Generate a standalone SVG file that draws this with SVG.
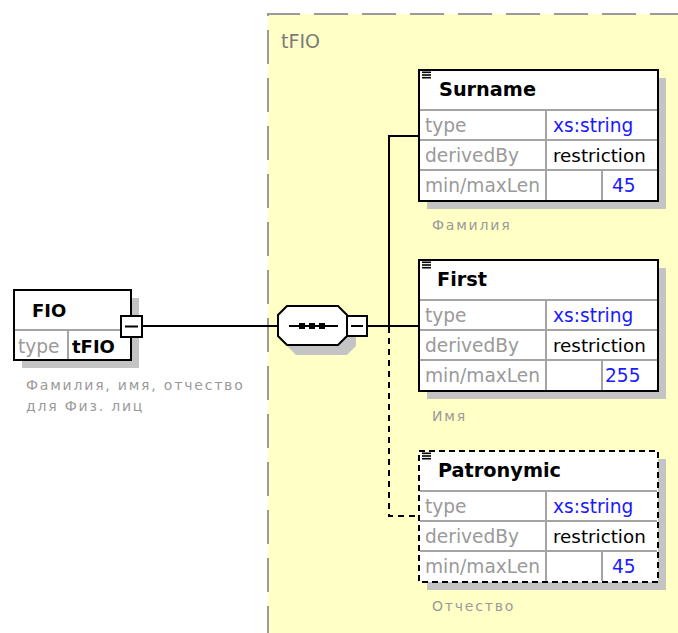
<svg xmlns="http://www.w3.org/2000/svg" width="678" height="633" viewBox="0 0 678 633">
<defs>
<style>
.bg{fill:#ffffff}
.region{fill:#ffffc6}
.regionEdge{fill:none;stroke:#9a9a9a;stroke-width:2;stroke-dasharray:34 14}
.shadow{fill:#c4c4c4}
.box{fill:#ffffff;stroke:#000000;stroke-width:2}
.dbox{fill:#ffffff;stroke:#000000;stroke-width:2;stroke-dasharray:6 4}
.cell{stroke:#a4a4a4;stroke-width:2;fill:none}
.wire{stroke:#000000;stroke-width:2;fill:none}
.dwire{stroke:#000000;stroke-width:2;fill:none;stroke-dasharray:6 5}
.hdr{font-family:"DejaVu Sans",Verdana,sans-serif;font-size:18px;font-weight:bold;fill:#000000}
.ehdr{font-family:"DejaVu Sans",Verdana,sans-serif;font-size:19.3px;font-weight:bold;fill:#000000}
.lbl{font-family:"DejaVu Sans",Verdana,sans-serif;font-size:18.6px;fill:#9a9a9a}
.val{font-family:"DejaVu Sans",Verdana,sans-serif;font-size:18.3px;fill:#000000}
.blue{font-family:"DejaVu Sans",Verdana,sans-serif;font-size:18.6px;fill:#1a1aff}
.desc{font-family:"DejaVu Sans",Verdana,sans-serif;font-size:14px;letter-spacing:1.8px;fill:#9a9a9a}
.title{font-family:"DejaVu Sans",Verdana,sans-serif;font-size:19px;fill:#7a7a7a}
.icon{fill:#000000}
</style>
</defs>
<rect class="bg" x="0" y="0" width="678" height="633"/>

<g id="tFIO">
<rect class="region" x="268" y="14" width="412" height="622"/>
<path class="regionEdge" d="M268,640 V14 H680"/>
<text class="title" x="281" y="48">tFIO</text>
</g>

<g id="connectors">
<line class="wire" x1="142" y1="326" x2="278" y2="326"/>
<line class="wire" x1="367" y1="326" x2="419" y2="326"/>
<path class="wire" d="M419,136 H389 V326"/>
<path class="dwire" d="M389,327 V516 H419"/>
</g>

<g id="FIO">
<rect class="shadow" x="22" y="298" width="117" height="70"/>
<rect class="box" x="14" y="290" width="117" height="70"/>
<line class="cell" x1="15" y1="330" x2="130" y2="330"/>
<line class="cell" x1="68" y1="330" x2="68" y2="359"/>
<rect class="box" x="14" y="290" width="117" height="70" style="fill:none"/>
<text class="hdr" x="32" y="317">FIO</text>
<text class="lbl" x="18" y="353">type</text>
<text class="hdr" x="72" y="353">tFIO</text>
<rect x="121" y="316" width="21" height="21" fill="#ffffff" stroke="#000000" stroke-width="2"/>
<line x1="125" y1="326.5" x2="138" y2="326.5" stroke="#000000" stroke-width="2"/>
<text class="desc" x="26" y="390">Фамилия, имя, отчество</text>
<text class="desc" x="26" y="411">для Физ. лиц</text>
</g>

<g id="sequence">
<path class="shadow" d="M296,315 H347 L356,324 V346 L347,355 H296 L287,346 V324 Z"/>
<path d="M287,306 H338 L347,315 V336 L338,345 H287 L278,336 V315 Z" fill="#ffffff" stroke="#000000" stroke-width="2"/>
<line x1="289" y1="326" x2="338" y2="326" stroke="#000000" stroke-width="2"/>
<rect x="299" y="323" width="6" height="6" fill="#000000"/>
<rect x="309" y="323" width="6" height="6" fill="#000000"/>
<rect x="319" y="323" width="6" height="6" fill="#000000"/>
<rect x="347" y="316" width="20" height="20" fill="#ffffff" stroke="#000000" stroke-width="2"/>
<line x1="351" y1="326" x2="363" y2="326" stroke="#000000" stroke-width="2"/>
</g>

<g id="Surname">
<rect class="shadow" x="427" y="78" width="239" height="131"/>
<rect class="box" x="419" y="70" width="239" height="131"/>
<path class="cell" d="M420,110 H657 M420,140 H657 M420,170 H657 M546,110 V200 M602,170 V200"/>
<rect class="box" x="419" y="70" width="239" height="131" style="fill:none"/>
<rect class="icon" x="422" y="71.5" width="9" height="1.6"/>
<rect class="icon" x="422" y="74.2" width="9" height="1.6"/>
<rect class="icon" x="422" y="76.9" width="9" height="1.6"/>
<text class="ehdr" x="439" y="96">Surname</text>
<text class="lbl" x="425" y="132">type</text>
<text class="blue" x="553" y="132">xs:string</text>
<text class="lbl" x="425" y="162">derivedBy</text>
<text class="val" x="553" y="162">restriction</text>
<text class="lbl" x="425" y="192">min/maxLen</text>
<text class="blue" x="612" y="192">45</text>
<text class="desc" x="432" y="230">Фамилия</text>
</g>

<g id="First">
<rect class="shadow" x="427" y="268" width="239" height="131"/>
<rect class="box" x="419" y="260" width="239" height="131"/>
<path class="cell" d="M420,300 H657 M420,330 H657 M420,360 H657 M546,300 V390 M602,360 V390"/>
<rect class="box" x="419" y="260" width="239" height="131" style="fill:none"/>
<rect class="icon" x="422" y="261.5" width="9" height="1.6"/>
<rect class="icon" x="422" y="264.2" width="9" height="1.6"/>
<rect class="icon" x="422" y="266.9" width="9" height="1.6"/>
<text class="ehdr" x="437" y="286">First</text>
<text class="lbl" x="425" y="322">type</text>
<text class="blue" x="553" y="322">xs:string</text>
<text class="lbl" x="425" y="352">derivedBy</text>
<text class="val" x="553" y="352">restriction</text>
<text class="lbl" x="425" y="382">min/maxLen</text>
<text class="blue" x="605" y="382">255</text>
<text class="desc" x="432" y="421">Имя</text>
</g>

<g id="Patronymic">
<rect class="shadow" x="427" y="459" width="239" height="131"/>
<rect x="419" y="451" width="239" height="131" fill="#ffffff"/>
<path class="cell" d="M420,491 H657 M420,521 H657 M420,551 H657 M546,491 V581 M602,551 V581"/>
<rect class="dbox" x="419" y="451" width="239" height="131" style="fill:none"/>
<rect class="icon" x="422" y="452.5" width="9" height="1.6"/>
<rect class="icon" x="422" y="455.2" width="9" height="1.6"/>
<rect class="icon" x="422" y="457.9" width="9" height="1.6"/>
<text class="ehdr" x="438" y="477">Patronymic</text>
<text class="lbl" x="425" y="513">type</text>
<text class="blue" x="553" y="513">xs:string</text>
<text class="lbl" x="425" y="543">derivedBy</text>
<text class="val" x="553" y="543">restriction</text>
<text class="lbl" x="425" y="573">min/maxLen</text>
<text class="blue" x="612" y="573">45</text>
<text class="desc" x="432" y="611">Отчество</text>
</g>
</svg>
